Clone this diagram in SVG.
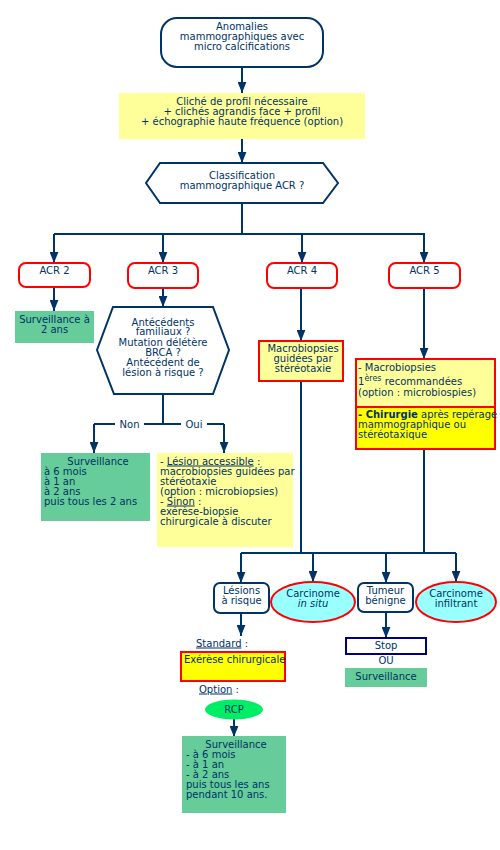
<svg xmlns="http://www.w3.org/2000/svg" width="500" height="850" viewBox="0 0 500 850">
<defs>
<marker id="ah" viewBox="0 0 10 8" refX="10" refY="4" markerWidth="11" markerHeight="9" markerUnits="userSpaceOnUse" orient="auto"><path d="M0,0 L10,4 L0,8 z" fill="#003366"/></marker>
<style>
text{font-family:"DejaVu Sans","Liberation Sans",sans-serif;font-size:10px;fill:#003366}
.c{text-anchor:middle}
.ln{fill:none;stroke:#003366;stroke-width:2}
.ar{fill:none;stroke:#003366;stroke-width:2;marker-end:url(#ah)}
.nv{fill:#fff;stroke:#003366;stroke-width:2}
.acr{fill:#fff;stroke:#ff0000;stroke-width:2}
.ly{fill:#ffff99}
.gr{fill:#66cc99}
.ry{fill:#ffff00;stroke:#ff0000;stroke-width:2}
.rly{fill:#ffff99;stroke:#ff0000;stroke-width:2}
.cy{fill:#99ffff;stroke:#ff0000;stroke-width:2}
.u{text-decoration:underline}
</style>
</defs>
<rect width="500" height="850" fill="#fff"/>

<g id="connectors">
<path class="ar" d="M242,67 V93"/>
<path class="ar" d="M242,139 V163"/>
<path class="ln" d="M242,203 V234 M54,234 H425"/>
<path class="ar" d="M54,234 V263"/>
<path class="ar" d="M163,234 V263"/>
<path class="ar" d="M302,234 V263"/>
<path class="ar" d="M424,234 V263"/>
<path class="ar" d="M54,287 V311"/>
<path class="ar" d="M163,288 V307"/>
<path class="ln" d="M163,394 V424 M94,424 H115 M144,424 H181 M207,424 H224"/>
<path class="ar" d="M94,424 V453"/>
<path class="ar" d="M224,424 V453"/>
<path class="ar" d="M301,288 V341"/>
<path class="ar" d="M424,288 V359"/>
<path class="ln" d="M301,381 V553 M424,449 V553 M241,553 H456"/>
<path class="ar" d="M241,553 V583"/>
<path class="ar" d="M313,553 V582"/>
<path class="ar" d="M386,553 V583"/>
<path class="ar" d="M456,553 V582"/>
<path class="ar" d="M241,613 V636"/>
<path class="ar" d="M386,612 V638"/>
<path class="ar" d="M234,719 V737"/>
<text x="129.5" y="427.5" class="c">Non</text>
<text x="194" y="427.5" class="c">Oui</text>
</g>

<g id="start">
<rect x="161" y="18" width="162" height="49" rx="16" class="nv"/>
<text x="242" y="29.5" class="c">Anomalies</text>
<text x="242" y="39.5" class="c">mammographiques avec</text>
<text x="242" y="49.5" class="c">micro calcifications</text>
</g>

<g id="cliche">
<rect x="119" y="93" width="246" height="46" class="ly"/>
<text x="242" y="104.5" class="c">Cliché de profil nécessaire</text>
<text x="242" y="114.5" class="c">+ clichés agrandis face + profil</text>
<text x="242" y="124.5" class="c">+ échographie haute fréquence (option)</text>
</g>

<g id="classification">
<path d="M160,163 H323 L338,183 L323,203 H160 L146,183 Z" class="nv"/>
<text x="242" y="178.5" class="c">Classification</text>
<text x="242" y="188.5" class="c">mammographique ACR ?</text>
</g>

<g id="acr2">
<rect x="19" y="263" width="71" height="24" rx="7" class="acr"/>
<text x="54.5" y="274" class="c">ACR 2</text>
</g>
<g id="acr3">
<rect x="128" y="263" width="70" height="25" rx="7" class="acr"/>
<text x="163" y="274" class="c">ACR 3</text>
</g>
<g id="acr4">
<rect x="267" y="263" width="70" height="25" rx="7" class="acr"/>
<text x="302" y="274" class="c">ACR 4</text>
</g>
<g id="acr5">
<rect x="389" y="263" width="71" height="25" rx="7" class="acr"/>
<text x="424.5" y="274" class="c">ACR 5</text>
</g>

<g id="surv2ans">
<rect x="15" y="311" width="79" height="32" class="gr"/>
<text x="54.5" y="322.5" class="c">Surveillance à</text>
<text x="54.5" y="332.5" class="c">2 ans</text>
</g>

<g id="antecedents">
<path d="M113,307 H213 L229,350 L213,394 H114 L97,350 Z" class="nv"/>
<text x="163" y="325.5" class="c">Antécédents</text>
<text x="163" y="335" class="c">familiaux ?</text>
<text x="163" y="345.5" class="c">Mutation délétère</text>
<text x="163" y="355.5" class="c">BRCA ?</text>
<text x="163" y="365.5" class="c">Antécédent de</text>
<text x="163" y="376" class="c">lésion à risque ?</text>
</g>

<g id="surv-non">
<rect x="41" y="453" width="109" height="68" class="gr"/>
<text x="98" y="464.5" class="c">Surveillance</text>
<text x="44" y="474.5">à 6 mois</text>
<text x="44" y="484.5">à 1 an</text>
<text x="44" y="494.5">à 2 ans</text>
<text x="44" y="504.5">puis tous les 2 ans</text>
</g>

<g id="lesion-oui">
<rect x="157" y="453" width="136" height="94" class="ly"/>
<text x="160" y="464.5">- <tspan class="u">Lésion accessible</tspan> :</text>
<text x="160" y="474.5">macrobiopsies guidées par</text>
<text x="160" y="484.5">stéréotaxie</text>
<text x="160" y="494.5">(option : microbiopsies)</text>
<text x="160" y="504.5">- <tspan class="u">Sinon</tspan> :</text>
<text x="160" y="514.5">exérèse-biopsie</text>
<text x="160" y="524.5">chirurgicale à discuter</text>
</g>

<g id="macro4">
<rect x="259" y="341" width="84" height="40" class="rly"/>
<text x="303" y="351.5" class="c">Macrobiopsies</text>
<text x="303" y="361.5" class="c">guidées par</text>
<text x="303" y="371.5" class="c">stéréotaxie</text>
</g>

<g id="macro5">
<rect x="356" y="359" width="139" height="48" class="rly"/>
<rect x="356" y="407" width="139" height="42" class="ry"/>
<text x="358" y="370.5">- Macrobiopsies</text>
<text x="358" y="384.5">1<tspan dy="-4" font-size="8">ères</tspan><tspan dy="4"> recommandées</tspan></text>
<text x="358" y="395.5">(option : microbiospies)</text>
<text x="358" y="417.5"><tspan font-weight="bold">- Chirurgie</tspan> après repérage</text>
<text x="358" y="427.5">mammographique ou</text>
<text x="358" y="437.5">stéréotaxique</text>
</g>

<g id="lesions-risque">
<rect x="214" y="583" width="55" height="30" rx="6" class="nv"/>
<text x="241.5" y="593.5" class="c">Lésions</text>
<text x="241.5" y="603.5" class="c">à risque</text>
</g>

<g id="carcinome-in-situ">
<ellipse cx="313" cy="602" rx="42" ry="20" class="cy"/>
<text x="313" y="596.5" class="c">Carcinome</text>
<text x="313" y="606.5" class="c" font-style="italic">in situ</text>
</g>

<g id="tumeur-benigne">
<rect x="358" y="583" width="55" height="29" rx="6" class="nv"/>
<text x="385.5" y="593.5" class="c">Tumeur</text>
<text x="385.5" y="603.5" class="c">bénigne</text>
</g>

<g id="carcinome-infiltrant">
<ellipse cx="456" cy="602" rx="40" ry="20" class="cy"/>
<text x="456" y="596.5" class="c">Carcinome</text>
<text x="456" y="606.5" class="c">infiltrant</text>
</g>

<g id="standard">
<text x="196" y="646.5"><tspan class="u">Standard</tspan> :</text>
</g>
<g id="exerese">
<rect x="181" y="652" width="104" height="29" class="ry"/>
<text x="184" y="662.5">Exérèse chirurgicale</text>
</g>
<g id="option">
<text x="199" y="692.5"><tspan class="u">Option</tspan> :</text>
</g>
<g id="rcp">
<ellipse cx="234" cy="709.5" rx="29" ry="10" fill="#00ee66"/>
<text x="234" y="712.5" class="c">RCP</text>
</g>
<g id="surv-10ans">
<rect x="182" y="736" width="104" height="77" class="gr"/>
<text x="236" y="747.5" class="c">Surveillance</text>
<text x="186" y="757.5">- à 6 mois</text>
<text x="186" y="767.5">- à 1 an</text>
<text x="186" y="777.5">- à 2 ans</text>
<text x="186" y="787.5">puis tous les ans</text>
<text x="186" y="797.5">pendant 10 ans.</text>
</g>

<g id="stop">
<rect x="346" y="638" width="80" height="16" fill="#fff" stroke="#000080" stroke-width="2"/>
<text x="386" y="648.5" class="c">Stop</text>
</g>
<g id="ou">
<text x="386" y="664" class="c">OU</text>
</g>
<g id="surv-benigne">
<rect x="345" y="668" width="82" height="19" class="gr"/>
<text x="386" y="680" class="c">Surveillance</text>
</g>
</svg>
